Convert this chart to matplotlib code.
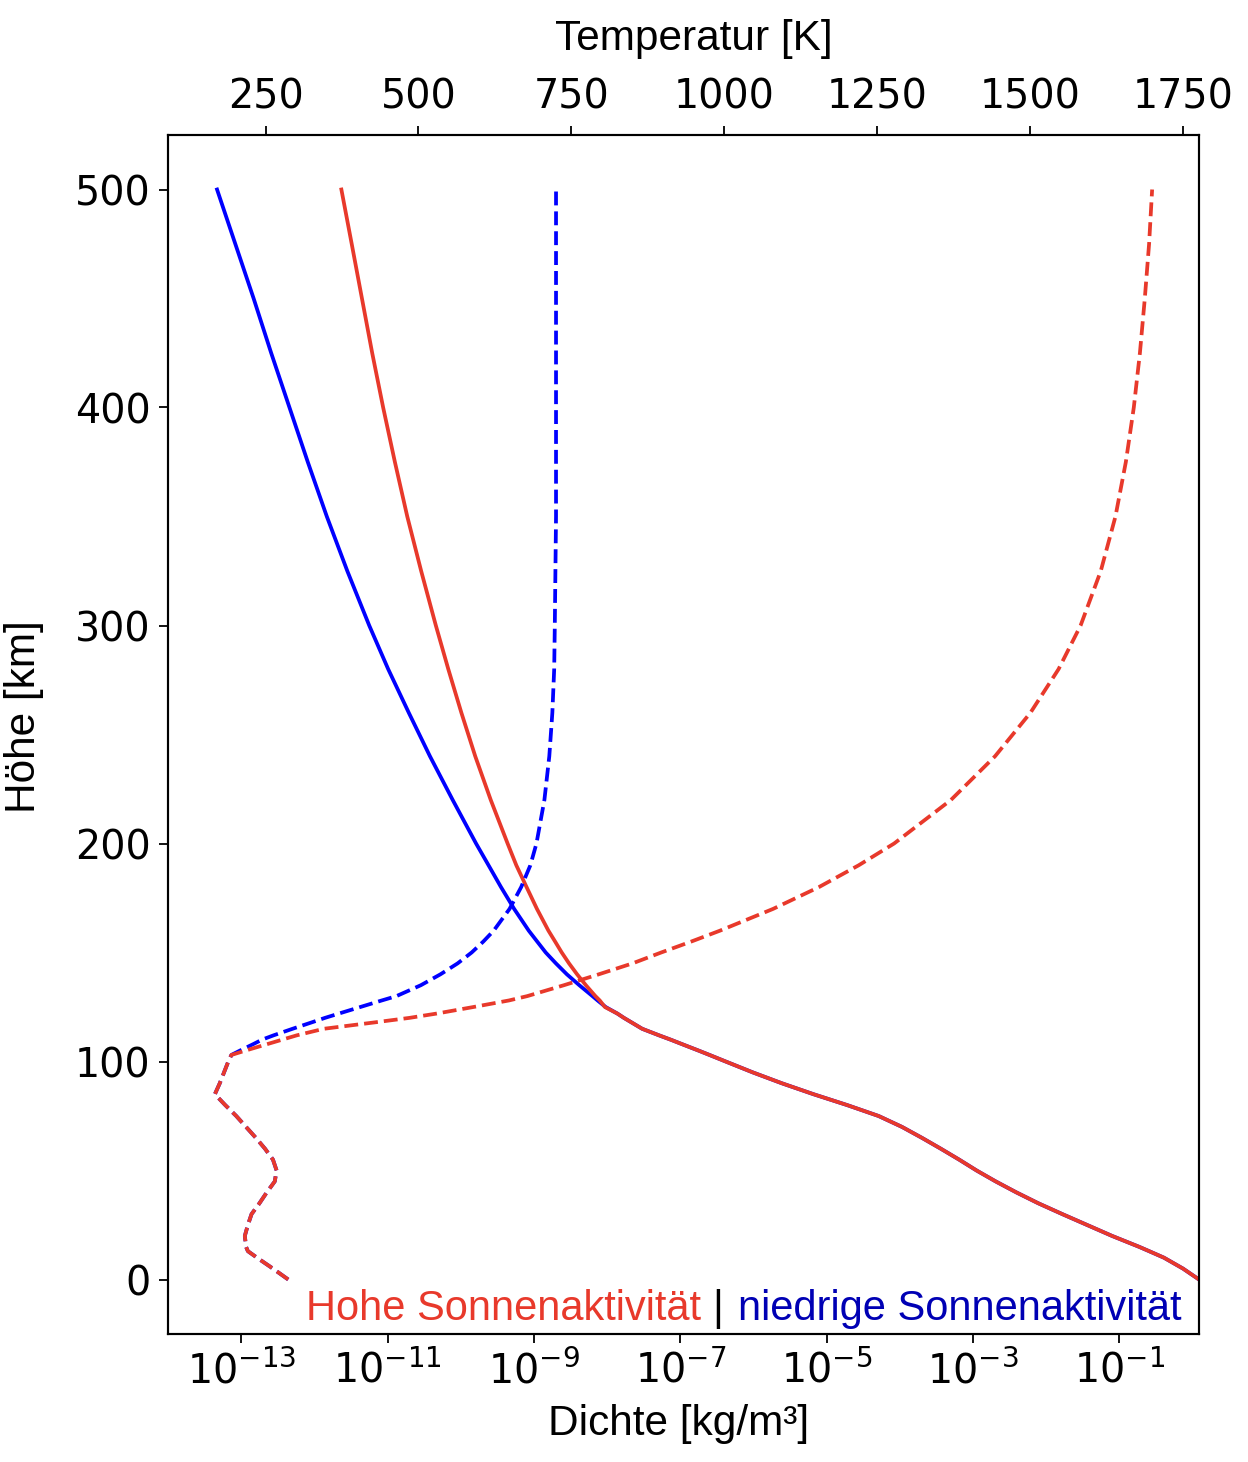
import matplotlib
matplotlib.use("Agg")
import matplotlib.pyplot as plt
import numpy as np
from matplotlib.ticker import NullLocator

# gemeinsamer Teil (0-100 km), fuer beide Aktivitaetsstufen gleich
h_unten = [0, 5, 10, 13, 15, 20, 25, 30, 35, 40, 45, 50, 55, 60, 65, 70, 75,
           80, 85, 90, 95, 100]
rho_unten = [1.225, 7.41e-1, 4.07e-1, 2.55e-1, 1.86e-1, 7.94e-2, 3.63e-2,
             1.66e-2, 7.76e-3, 3.89e-3, 2.04e-3, 1.12e-3, 6.46e-4, 3.63e-4,
             2.0e-4, 1.07e-4, 5.13e-5, 1.91e-5, 6.61e-6, 2.45e-6, 9.8e-7,
             4.17e-7]
T_unten = [287, 262, 236, 221, 218, 216, 221, 227, 240, 252, 265, 268, 262,
           249, 234, 218, 202, 184, 167, 175, 182, 189]

# Thermosphaere (103-500 km)
h_oben = [103, 105, 108, 110, 112, 115, 118, 120, 122, 125, 128, 130, 135,
          140, 145, 150, 155, 160, 170, 180, 190, 200, 220, 240, 260, 280,
          300, 325, 350, 375, 400, 425, 450, 475, 500]
rho_hoch = [2.51e-7, 1.78e-7, 1.05e-7, 7.41e-8, 5.13e-8, 3.02e-8, 2.14e-8,
            1.70e-8, 1.38e-8, 9.33e-9, 7.94e-9, 6.92e-9, 5.13e-9, 3.89e-9,
            3.02e-9, 2.40e-9, 1.95e-9, 1.58e-9, 1.10e-9, 7.94e-10, 5.75e-10,
            4.37e-10, 2.57e-10, 1.58e-10, 1.02e-10, 6.76e-11, 4.57e-11,
            2.88e-11, 1.86e-11, 1.26e-11, 8.71e-12, 6.17e-12, 4.47e-12,
            3.24e-12, 2.34e-12]
rho_niedrig = [2.51e-7, 1.78e-7, 1.05e-7, 7.41e-8, 5.13e-8, 3.02e-8, 2.14e-8,
               1.70e-8, 1.38e-8, 9.55e-9, 7.41e-9, 6.31e-9, 4.17e-9, 2.82e-9,
               2.0e-9, 1.45e-9, 1.11e-9, 8.51e-10, 5.37e-10, 3.55e-10,
               2.40e-10, 1.62e-10, 7.76e-11, 3.80e-11, 1.95e-11, 1.02e-11,
               5.62e-12, 2.82e-12, 1.48e-12, 8.13e-13, 4.57e-13, 2.57e-13,
               1.48e-13, 8.32e-14, 4.68e-14]
T_hoch = [194, 217, 253, 277, 301, 345, 430, 485, 530, 590, 648, 678, 738,
          795, 850, 897, 946, 993, 1080, 1155, 1220, 1278, 1371, 1443, 1501,
          1547, 1583, 1616, 1640, 1657, 1670, 1680, 1688, 1695, 1700]
T_niedrig = [194, 208, 230, 244, 263, 294, 326, 347, 370, 405, 440, 464, 504,
             536, 564, 587, 606, 623, 649, 668, 683, 693, 706, 714, 719, 722,
             723, 724, 725, 725, 725, 725, 725, 725, 725]

ROT = "#e8392b"
BLAU = "#0000ff"
LABEL_FONT = ["Liberation Sans", "DejaVu Sans"]

h = np.concatenate([h_unten, h_oben])

fig = plt.figure(figsize=(12.48, 14.62), dpi=100)
ax = fig.add_axes([168 / 1248, 128 / 1462, 1031 / 1248, 1199 / 1462])

ax.plot(np.concatenate([rho_unten, rho_niedrig]), h, color=BLAU, lw=2.7)
ax.plot(np.concatenate([rho_unten, rho_hoch]), h, color=ROT, lw=2.7)
ax.set_xscale("log")
ax.set_xlim(1e-14, max(rho_unten))
ax.set_xticks([1e-13, 1e-11, 1e-9, 1e-7, 1e-5, 1e-3, 1e-1])
ax.xaxis.set_minor_locator(NullLocator())
ax.set_yticks([0, 100, 200, 300, 400, 500])

ax2 = ax.twiny()
ax2.plot(np.concatenate([T_unten, T_niedrig]), h, color=BLAU, lw=2.7, ls="--")
ax2.plot(np.concatenate([T_unten, T_hoch]), h, color=ROT, lw=2.7, ls="--")
ax2.set_xticks([250, 500, 750, 1000, 1250, 1500, 1750])

for a in (ax, ax2):
    a.tick_params(labelsize=28.5, length=6.5, width=1.3, pad=6)
    for s in a.spines.values():
        s.set_linewidth(1.5)

ax.set_xlabel("Dichte [kg/m³]", fontsize=30.5, family=LABEL_FONT, labelpad=8)
ax.set_ylabel("Höhe [km]", fontsize=30.5, family=LABEL_FONT, labelpad=22)
ax2.set_xlabel("Temperatur [K]", fontsize=30.5, family=LABEL_FONT, labelpad=20)
ax.xaxis.label.set_x(0.495)
ax.yaxis.label.set_y(0.515)
ax2.xaxis.label.set_x(0.51)

# Legende als farbiger Text
ax.text(0.1338, 0.0117, "Hohe Sonnenaktivität", transform=ax.transAxes,
        color=ROT, fontsize=30, family=LABEL_FONT, ha="left", va="baseline")
ax.text(0.5335, 0.0117, "|", transform=ax.transAxes, color="black",
        fontsize=30, family=LABEL_FONT, ha="center", va="baseline")
ax.text(0.5529, 0.0117, "niedrige Sonnenaktivität", transform=ax.transAxes,
        color="#0000b4", fontsize=30, family=LABEL_FONT, ha="left",
        va="baseline")

fig.savefig("out.png", dpi=100)
